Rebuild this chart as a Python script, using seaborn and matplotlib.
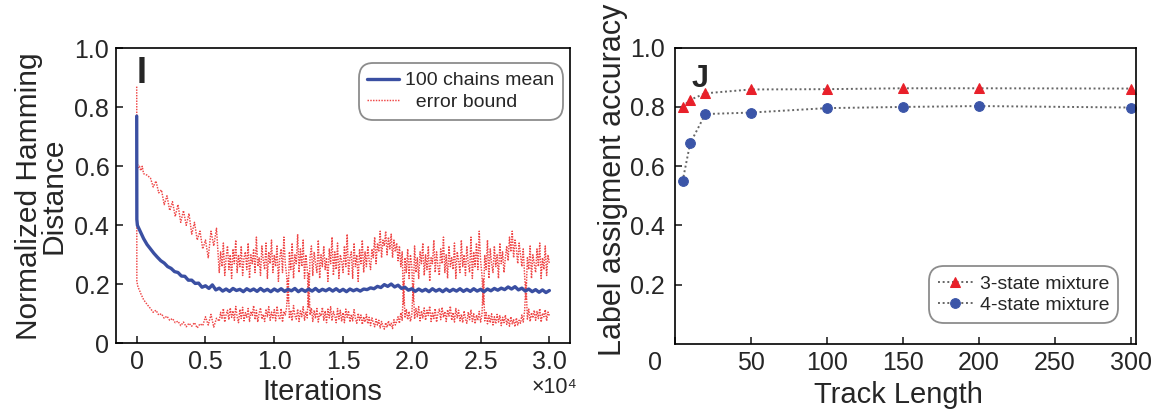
import matplotlib
matplotlib.use("Agg")
import matplotlib.pyplot as plt
import matplotlib.transforms as mtransforms
import seaborn as sns
import pandas as pd

# ---------------- data: panel I ----------------
# mean curve sampled every 250 iterations (after an early dense start)
mean_iters = [0, 10, 50, 100, 200, 300, 400, 500, 750] + list(range(1000, 30001, 250))
mean_dist = [
    0.77, 0.42, 0.40, 0.395, 0.385, 0.375, 0.365, 0.355, 0.335,
    0.32, 0.305, 0.292, 0.28, 0.272, 0.26, 0.254, 0.243, 0.24, 0.228, 0.227,
    0.214, 0.214, 0.203, 0.204, 0.19, 0.195, 0.186, 0.198, 0.181, 0.187,
    0.177, 0.184, 0.176, 0.186, 0.179, 0.183, 0.175, 0.185,
    0.178, 0.184, 0.176, 0.186, 0.177, 0.183, 0.175, 0.184,
    0.177, 0.185, 0.176, 0.183, 0.178, 0.186, 0.175, 0.183,
    0.176, 0.184, 0.177, 0.186, 0.176, 0.183, 0.178, 0.185,
    0.177, 0.185, 0.176, 0.183, 0.175, 0.184, 0.178, 0.183,
    0.177, 0.184, 0.182, 0.188, 0.185, 0.193, 0.189, 0.199,
    0.193, 0.201, 0.191, 0.197, 0.186, 0.190, 0.180, 0.185,
    0.176, 0.184, 0.177, 0.183, 0.175, 0.185, 0.177, 0.183,
    0.175, 0.184, 0.176, 0.183, 0.177, 0.185, 0.176, 0.183,
    0.176, 0.185, 0.177, 0.183, 0.175, 0.184, 0.178, 0.186,
    0.180, 0.187, 0.182, 0.191, 0.184, 0.192, 0.181, 0.187,
    0.177, 0.184, 0.175, 0.182, 0.173, 0.181, 0.172, 0.179,
]

# error bounds: early dense start, every 200 iterations to 5800, then every 100
bound_iters = ([0, 10, 50, 100, 200, 300, 400, 500, 750]
               + list(range(1000, 6000, 200)) + list(range(6000, 30001, 100)))
upper_bound = [
    0.87, 0.62, 0.61, 0.595, 0.60, 0.585, 0.60, 0.575, 0.57,
    0.56, 0.53, 0.55, 0.51, 0.52, 0.47, 0.50, 0.45, 0.48, 0.43,
    0.47, 0.41, 0.45, 0.40, 0.44, 0.37, 0.41, 0.35, 0.38, 0.32,
    0.35, 0.29, 0.38, 0.33, 0.39,
    0.24, 0.31, 0.26, 0.34, 0.23, 0.29, 0.33, 0.25, 0.30, 0.22,
    0.32, 0.27, 0.35, 0.24, 0.30, 0.26, 0.33, 0.23, 0.29, 0.31,
    0.25, 0.34, 0.22, 0.30, 0.27, 0.32, 0.24, 0.36, 0.26, 0.29,
    0.23, 0.33, 0.28, 0.25, 0.34, 0.22, 0.31, 0.27, 0.35, 0.24,
    0.30, 0.26, 0.33, 0.21, 0.29, 0.32, 0.24, 0.36, 0.27, 0.23,
    0.14, 0.31, 0.25, 0.34, 0.22, 0.30, 0.27, 0.37, 0.24, 0.32,
    0.26, 0.35, 0.22, 0.30, 0.25, 0.12, 0.29, 0.33, 0.23, 0.31,
    0.27, 0.24, 0.35, 0.22, 0.30, 0.26, 0.33, 0.25, 0.29, 0.21,
    0.32, 0.27, 0.36, 0.23, 0.31, 0.25, 0.34, 0.22, 0.30, 0.28,
    0.24, 0.33, 0.26, 0.37, 0.23, 0.29, 0.31, 0.22, 0.34, 0.26,
    0.30, 0.21, 0.32, 0.27, 0.35, 0.24, 0.31, 0.26, 0.33, 0.28,
    0.25, 0.32, 0.29, 0.36, 0.27, 0.34, 0.31, 0.38, 0.29, 0.35,
    0.33, 0.38, 0.30, 0.36, 0.32, 0.37, 0.29, 0.35, 0.31, 0.34,
    0.28, 0.33, 0.26, 0.31, 0.13, 0.29, 0.24, 0.32, 0.22, 0.30,
    0.26, 0.14, 0.33, 0.24, 0.29, 0.22, 0.31, 0.27, 0.34, 0.23,
    0.30, 0.25, 0.33, 0.21, 0.29, 0.27, 0.35, 0.24, 0.31, 0.26,
    0.23, 0.32, 0.27, 0.36, 0.24, 0.30, 0.22, 0.33, 0.26, 0.29,
    0.25, 0.34, 0.22, 0.31, 0.28, 0.24, 0.35, 0.26, 0.30, 0.23,
    0.33, 0.27, 0.24, 0.36, 0.22, 0.31, 0.26, 0.34, 0.25, 0.38,
    0.28, 0.23, 0.13, 0.30, 0.25, 0.35, 0.22, 0.32, 0.27, 0.24,
    0.33, 0.26, 0.30, 0.22, 0.34, 0.27, 0.31, 0.24, 0.29, 0.33,
    0.28, 0.36, 0.31, 0.38, 0.29, 0.35, 0.32, 0.27, 0.34, 0.30,
    0.26, 0.32, 0.23, 0.15, 0.29, 0.25, 0.33, 0.22, 0.30, 0.27,
    0.24, 0.32, 0.26, 0.34, 0.22, 0.29, 0.25, 0.33, 0.23, 0.30,
    0.27,
]
lower_bound = [
    0.75, 0.21, 0.20, 0.19, 0.18, 0.168, 0.158, 0.148, 0.132,
    0.118, 0.105, 0.112, 0.096, 0.100, 0.085, 0.092, 0.078, 0.084, 0.070,
    0.075, 0.060, 0.072, 0.056, 0.068, 0.058, 0.070, 0.052, 0.066, 0.060,
    0.090, 0.062, 0.098, 0.055, 0.085,
    0.075, 0.105, 0.085, 0.118, 0.072, 0.098, 0.112, 0.080, 0.120, 0.088,
    0.110, 0.078, 0.125, 0.090, 0.070, 0.115, 0.084, 0.122, 0.076, 0.104,
    0.088, 0.118, 0.074, 0.108, 0.095, 0.128, 0.080, 0.112, 0.072, 0.102,
    0.120, 0.082, 0.098, 0.074, 0.116, 0.090, 0.124, 0.078, 0.106, 0.086,
    0.114, 0.076, 0.126, 0.092, 0.080, 0.118, 0.072, 0.108, 0.096, 0.122,
    0.220, 0.084, 0.112, 0.076, 0.128, 0.094, 0.082, 0.116, 0.074, 0.110,
    0.090, 0.124, 0.078, 0.106, 0.086, 0.240, 0.096, 0.120, 0.074, 0.112,
    0.084, 0.118, 0.072, 0.102, 0.092, 0.122, 0.078, 0.110, 0.070, 0.116,
    0.086, 0.124, 0.076, 0.108, 0.094, 0.070, 0.118, 0.082, 0.112, 0.074,
    0.104, 0.070, 0.116, 0.088, 0.110, 0.072, 0.098, 0.076, 0.114, 0.084,
    0.068, 0.102, 0.078, 0.096, 0.064, 0.090, 0.072, 0.098, 0.066, 0.088,
    0.060, 0.086, 0.070, 0.056, 0.082, 0.062, 0.078, 0.052, 0.074, 0.058,
    0.048, 0.070, 0.054, 0.076, 0.058, 0.068, 0.050, 0.080, 0.062, 0.074,
    0.090, 0.068, 0.104, 0.078, 0.210, 0.086, 0.116, 0.080, 0.108, 0.074,
    0.096, 0.200, 0.082, 0.118, 0.090, 0.124, 0.076, 0.110, 0.086, 0.120,
    0.078, 0.112, 0.094, 0.126, 0.074, 0.106, 0.084, 0.118, 0.072, 0.102,
    0.116, 0.080, 0.122, 0.088, 0.108, 0.074, 0.114, 0.092, 0.126, 0.078,
    0.104, 0.072, 0.118, 0.086, 0.112, 0.076, 0.098, 0.070, 0.110, 0.082,
    0.068, 0.106, 0.080, 0.114, 0.074, 0.100, 0.066, 0.096, 0.078, 0.108,
    0.072, 0.098, 0.220, 0.076, 0.104, 0.066, 0.094, 0.070, 0.100, 0.062,
    0.090, 0.066, 0.098, 0.072, 0.094, 0.060, 0.088, 0.070, 0.096, 0.064,
    0.084, 0.058, 0.090, 0.066, 0.080, 0.056, 0.086, 0.062, 0.078, 0.068,
    0.096, 0.072, 0.110, 0.210, 0.082, 0.116, 0.074, 0.104, 0.086, 0.112,
    0.078, 0.108, 0.084, 0.118, 0.072, 0.102, 0.090, 0.114, 0.076, 0.106,
    0.094,
]

iter_ticks = [0, 5000, 10000, 15000, 20000, 25000, 30000]
iter_ticklabels = ["0", "0.5", "1.0", "1.5", "2.0", "2.5", "3.0"]
left_yticks = [0, 0.2, 0.4, 0.6, 0.8, 1.0]
left_yticklabels = ["0", "0.2", "0.4", "0.6", "0.8", "1.0"]

# ---------------- data: panel J ----------------
track_len = [5, 10, 20, 50, 100, 150, 200, 300]
acc_3state = [0.800, 0.824, 0.846, 0.859, 0.860, 0.863, 0.863, 0.862]
acc_4state = [0.549, 0.677, 0.776, 0.781, 0.796, 0.800, 0.803, 0.798]
right_xticks = [0, 50, 100, 150, 200, 250, 300]
right_yticks = [0.2, 0.4, 0.6, 0.8, 1.0]
right_yticklabels = ["0.2", "0.4", "0.6", "0.8", "1.0"]

# ---------------- style ----------------
sns.set_style("ticks", {"xtick.direction": "in", "ytick.direction": "in"})
plt.rcParams["font.family"] = ["Liberation Sans", "DejaVu Sans"]
plt.rcParams["axes.linewidth"] = 1.2

BLUE = "#3a4fa2"
RED_BAND = "#ef4646"
RED_MK = "#e8202a"
BLUE_MK = "#3b55a8"

TICK_FS = 18
XLABEL_FS = 21

fig = plt.figure(figsize=(11.52, 4.11), dpi=100)
ax1 = fig.add_axes([0.1004, 0.1647, 0.3944, 0.7178])
ax2 = fig.add_axes([0.5859, 0.1630, 0.4002, 0.7210])

# ---------------- panel I ----------------
df_mean = pd.DataFrame({"it": mean_iters, "v": mean_dist})
df_bnd = pd.DataFrame({"it": bound_iters, "up": upper_bound, "lo": lower_bound})
dotted = (0, (1.0, 0.9))
sns.lineplot(data=df_bnd, x="it", y="up", ax=ax1, color=RED_BAND, linestyle=dotted,
             linewidth=1.05, estimator=None, label="  error bound", zorder=2)
sns.lineplot(data=df_bnd, x="it", y="lo", ax=ax1, color=RED_BAND, linestyle=dotted,
             linewidth=1.05, estimator=None, zorder=2)
sns.lineplot(data=df_mean, x="it", y="v", ax=ax1, color=BLUE, linewidth=2.4,
             estimator=None, label="100 chains mean", zorder=3)

ax1.set_xlim(-1530, 31500)
ax1.set_ylim(0, 1)
ax1.set_xticks(iter_ticks, iter_ticklabels)
ax1.set_yticks(left_yticks, left_yticklabels)
ax1.set_xlabel("Iterations", fontsize=XLABEL_FS)
ax1.xaxis.set_label_coords(0.454, -0.119)
ax1.set_ylabel("Normalized Hamming\nDistance", fontsize=21.5, linespacing=0.85, labelpad=5)
ax1.text(0.046, 0.975, "I", transform=ax1.transAxes, fontsize=26, fontweight="bold",
         ha="left", va="top")
h, l = ax1.get_legend_handles_labels()
leg1 = ax1.legend([h[1], h[0]], [l[1], l[0]], loc="upper right", bbox_to_anchor=(0.985, 0.95),
                  borderaxespad=0, fontsize=14, frameon=True, fancybox=True,
                  handlelength=1.6, handletextpad=0.35, labelspacing=0.2, borderpad=0.45)

fig.text(577 / 1152, 1 - 398 / 411, "×10⁴", ha="right", va="bottom", fontsize=15.5)

# ---------------- panel J ----------------
df2 = pd.DataFrame({"L": track_len, "a3": acc_3state, "a4": acc_4state})
gray_dot = (0, (1.0, 1.4))
sns.lineplot(data=df2, x="L", y="a3", ax=ax2, color="#666666", linestyle=gray_dot, linewidth=1.4,
             marker="^", markersize=7.5, markerfacecolor=RED_MK, markeredgecolor=RED_MK,
             estimator=None, label="3-state mixture")
sns.lineplot(data=df2, x="L", y="a4", ax=ax2, color="#666666", linestyle=gray_dot, linewidth=1.4,
             marker="o", markersize=7, markerfacecolor=BLUE_MK, markeredgecolor=BLUE_MK,
             estimator=None, label="4-state mixture")
ax2.set_xlim(0, 303.5)
ax2.set_ylim(0, 1)
ax2.set_xticks(right_xticks)
ax2.set_yticks(right_yticks, right_yticklabels)
ax2.set_xlabel("Track Length", fontsize=XLABEL_FS)
ax2.xaxis.set_label_coords((898 - 675) / 461, -0.126)
ax2.set_ylabel("Label assigment accuracy", fontsize=22)
ax2.yaxis.set_label_coords(-0.102, 0.555)
ax2.text(0.036, 0.945, "J", transform=ax2.transAxes, fontsize=22, fontweight="bold",
         ha="left", va="top")
leg2 = ax2.legend(loc="lower right", bbox_to_anchor=(0.961, 0.071), borderaxespad=0,
                  fontsize=14, frameon=True, fancybox=True, handlelength=1.8,
                  handletextpad=0.35, labelspacing=0.2, borderpad=0.45)

for leg in (leg1, leg2):
    fr = leg.get_frame()
    fr.set_edgecolor("#8c8c8c")
    fr.set_linewidth(1.3)
    fr.set_boxstyle("round", pad=0, rounding_size=0.75)
    fr.set_alpha(1)

for ax, ypad in ((ax1, 4.6), (ax2, 7)):
    ax.tick_params(axis="both", which="major", labelsize=TICK_FS, length=5, width=1.2,
                   direction="in", top=False, right=False)
    ax.tick_params(axis="y", pad=ypad)
    ax.tick_params(axis="x", pad=5)
    for sp in ax.spines.values():
        sp.set_visible(True)
        sp.set_linewidth(1.2)
        sp.set_color("black")

# the "0" under panel J sits left of its tick, as in the original figure
shift = mtransforms.ScaledTranslation(-20 / 100, 0, fig.dpi_scale_trans)
t0 = ax2.xaxis.get_major_ticks()[0]
t0.label1.set_transform(t0.label1.get_transform() + shift)

fig.savefig("out.png", dpi=100)
